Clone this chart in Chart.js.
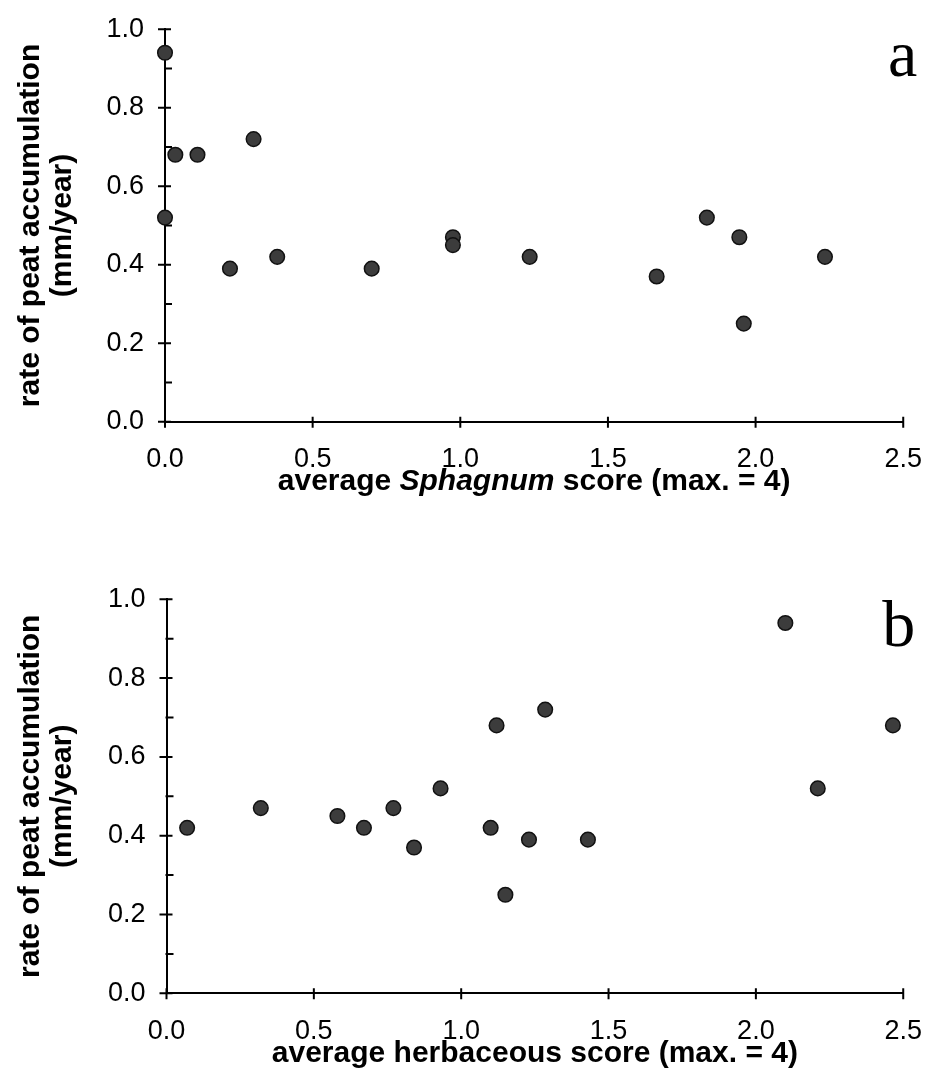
<!DOCTYPE html>
<html>
<head>
<meta charset="utf-8">
<script src="https://cdn.jsdelivr.net/npm/chart.js@4/dist/chart.umd.min.js"></script>
<style>
  body { margin: 0; background: #fff; }
  #wrap { position: relative; width: 936px; height: 1089px; }
  #top { position: absolute; left: 0; top: 0; }
  #bottom { position: absolute; left: 0; top: 540px; }
</style>
</head>
<body>
<div id="wrap">
  <canvas id="top" width="936" height="540"></canvas>
  <canvas id="bottom" width="936" height="549"></canvas>
</div>
<script>
// panel a: average Sphagnum score vs rate of peat accumulation
const sphagnumScore = [0.0, 0.035, 0.11, 0.30, 0.0, 0.22, 0.38, 0.70, 0.975, 0.975, 1.235, 1.665, 1.835, 1.945, 1.96, 2.235]
const sphagnumRate  = [0.94, 0.68, 0.68, 0.72, 0.52, 0.39, 0.42, 0.39, 0.47, 0.45, 0.42, 0.37, 0.52, 0.47, 0.25, 0.42]

// panel b: average herbaceous score vs rate of peat accumulation
const herbScore = [0.07, 0.32, 0.58, 0.67, 0.77, 0.84, 0.93, 1.12, 1.285, 1.10, 1.23, 1.15, 1.43, 2.10, 2.21, 2.465]
const herbRate  = [0.42, 0.47, 0.45, 0.42, 0.47, 0.37, 0.52, 0.68, 0.72, 0.42, 0.39, 0.25, 0.39, 0.94, 0.52, 0.68]

const yTitle = ['rate of peat accumulation', '(mm/year)']
const xTitleA = [['average ', false], ['Sphagnum', true], [' score (max. = 4)', false]]
const xTitleB = [['average herbaceous score (max. = 4)', false]]

const SANS = '"Liberation Sans", Arial, Helvetica, sans-serif'

// tick marks crossing the axes (drawn through the scales)
const tickMarks = {
    id: 'tickMarks',
    beforeDatasetsDraw(chart) {
        const ctx = chart.ctx, xs = chart.scales.x, ys = chart.scales.y
        const ax = xs.left, ay = ys.bottom
        ctx.save()
        ctx.strokeStyle = '#000'
        ctx.lineWidth = 2
        ctx.beginPath()
        ys.ticks.forEach(t => {
            const py = ys.getPixelForValue(t.value)
            const major = Math.round(t.value * 10) % 2 === 0
            ctx.moveTo(ax - (major ? 7 : 1), py)
            ctx.lineTo(ax + (major ? 6 : 7), py)
        })
        xs.ticks.forEach(t => {
            const px = xs.getPixelForValue(t.value)
            ctx.moveTo(px, ay - 5)
            ctx.lineTo(px, ay + 6)
        })
        ctx.stroke()
        ctx.restore()
    }
}

// x title with italic part + panel letter
const panelText = {
    id: 'panelText',
    afterDraw(chart, args, opts) {
        const ctx = chart.ctx, area = chart.chartArea
        ctx.save()
        ctx.fillStyle = '#000'
        ctx.textBaseline = 'alphabetic'
        ctx.textAlign = 'left'
        const fonts = opts.parts.map(p => `${p[1] ? 'italic ' : ''}bold 30px ${SANS}`)
        let total = 0
        const widths = opts.parts.map((p, i) => {
            ctx.font = fonts[i]
            const w = ctx.measureText(p[0]).width
            total += w
            return w
        })
        let xx = (area.left + area.right) / 2 - total / 2
        opts.parts.forEach((p, i) => {
            ctx.font = fonts[i]
            ctx.fillText(p[0], xx, area.bottom + 68.5)
            xx += widths[i]
        })
        ctx.font = '66px "Liberation Serif", "Times New Roman", serif'
        ctx.textAlign = 'right'
        ctx.fillText(opts.letter, area.right + opts.letterDx, area.top + 47)
        ctx.restore()
    }
}

const makeChart = (id, xs, ys, parts, letter, geo) => {
    const points = xs.map((x, i) => ({ x: x, y: ys[i] }))
    return new Chart(document.getElementById(id), {
        type: 'scatter',
        data: {
            datasets: [{
                data: points,
                backgroundColor: '#3c3c3c',
                borderColor: '#111',
                borderWidth: 1.5,
                pointRadius: 7.3,
                pointHoverRadius: 7.3,
                clip: false
            }]
        },
        options: {
            responsive: false,
            animation: false,
            events: [],
            layout: { padding: geo.padding },
            plugins: {
                legend: { display: false },
                tooltip: { enabled: false },
                panelText: { parts: parts, letter: letter, letterDx: geo.letterDx }
            },
            scales: {
                x: {
                    type: 'linear',
                    min: 0,
                    max: 2.5,
                    grid: { display: false },
                    border: { display: true, color: '#000', width: 2 },
                    ticks: {
                        stepSize: 0.5,
                        autoSkip: false,
                        maxRotation: 0,
                        padding: 14,
                        color: '#000',
                        font: { family: SANS, size: 27 },
                        callback: v => v.toFixed(1)
                    },
                    afterFit: s => { s.height = geo.xHeight }
                },
                y: {
                    type: 'linear',
                    min: 0,
                    max: 1,
                    grid: { display: false },
                    border: { display: true, color: '#000', width: 2 },
                    ticks: {
                        stepSize: 0.1,
                        autoSkip: false,
                        padding: 13,
                        color: '#000',
                        font: { family: SANS, size: 27 },
                        callback: v => Math.round(v * 10) % 2 === 0 ? v.toFixed(1) : ''
                    },
                    title: {
                        display: true,
                        text: yTitle,
                        color: '#000',
                        font: { family: SANS, size: 30, weight: 'bold', lineHeight: 1.07 },
                        padding: { top: 15, bottom: 0 }
                    },
                    afterFit: s => { s.width = geo.yWidth }
                }
            }
        },
        plugins: [tickMarks, panelText]
    })
}

makeChart('top', sphagnumScore, sphagnumRate, xTitleA, 'a', {
    padding: { left: 0, top: 26, right: 26.7, bottom: 18.3 },
    xHeight: 100,
    yWidth: 165,
    letterDx: 14
})

makeChart('bottom', herbScore, herbRate, xTitleB, 'b', {
    padding: { left: 0, top: 59.3, right: 23.3, bottom: 5.7 },
    xHeight: 90,
    yWidth: 166.5,
    letterDx: 12
})
</script>
</body>
</html>
